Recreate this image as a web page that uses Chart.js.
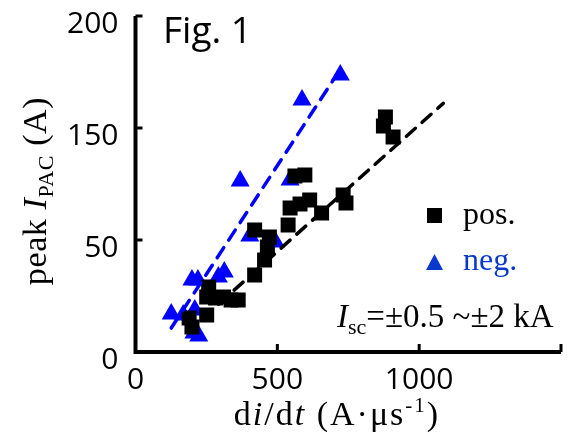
<!DOCTYPE html>
<html lang="en">
  <head>
    <meta charset="UTF-8" />
    <title>peak I_PAC vs di/dt</title>
    <style>
      html, body { margin: 0; padding: 0; background: #fff; }
      #wrap { width: 572px; height: 437px; }
    </style>
  </head>
  <body>
    <div id="wrap"><canvas id="scatter" width="572" height="437"></canvas></div>

    <script src="https://cdn.jsdelivr.net/npm/chart.js@4.4.0/dist/chart.umd.min.js"></script>
    <script>
      // positive strokes (black squares)
      const posX = [881, 874, 908, 562, 597, 732, 742, 656, 545, 580, 614, 538, 472, 420, 465, 455, 420, 337, 310, 362, 258, 251, 282, 251, 189, 199];
      const posY = [104.9, 100.9, 96.0, 78.6, 79.0, 70.1, 66.5, 62.1, 64.3, 66.1, 67.9, 56.7, 51.3, 54.5, 46.9, 41.1, 34.4, 23.2, 24.6, 23.2, 29.0, 24.6, 24.1, 16.5, 15.2, 11.2];
      // negative strokes (blue triangles)
      const negX = [722, 587, 369, 545, 403, 493, 199, 220, 292, 313, 126, 168, 209, 206, 223];
      const negY = [123.7, 112.5, 76.3, 76.8, 51.8, 49.1, 32.1, 32.1, 33.5, 35.7, 17.0, 16.5, 18.8, 8.5, 7.1];
      // fitted lines, end points
      const posFitX = [182, 1085];
      const posFitY = [8.9, 111];
      const negFitX = [126, 725];
      const negFitY = [10.7, 126.8];

      const xTicks = [0, 500, 1000];
      const yTicks = [0, 50, 100, 150];
      const yTickText = ["0", "50", "150", "200"];

      const BLUE = "#0000ff";
      const LEGEND_BLUE = "#0a3acd";
      const SERIF = "'Liberation Serif', 'Times New Roman', serif";
      const SANS = "'Open Sans', 'Noto Sans', sans-serif";

      const toPoints = (xs, ys) => xs.map((x, i) => ({ x: x, y: ys[i] }));

      // draws a run of text pieces with their own style and vertical shift
      const drawRuns = (ctx, runs, x, y, align, spacing) => {
        ctx.save();
        ctx.letterSpacing = spacing + "px";
        let total = 0;
        runs.forEach((r) => {
          ctx.font = r.font;
          r.w = ctx.measureText(r.text).width;
          total += r.w;
        });
        let cx = align === "center" ? x - total / 2 : x;
        ctx.textAlign = "left";
        ctx.textBaseline = "alphabetic";
        runs.forEach((r) => {
          ctx.font = r.font;
          ctx.fillStyle = r.color || "#000";
          ctx.fillText(r.text, cx, y + (r.dy || 0));
          cx += r.w;
        });
        ctx.restore();
      };

      const decor = {
        id: "decor",
        afterDraw(chart) {
          const ctx = chart.ctx;
          const xs = chart.scales.x;
          const ys = chart.scales.y;
          const left = xs.left;
          const right = xs.right;
          const top = ys.top;
          const bottom = ys.bottom;

          // axis lines
          ctx.save();
          ctx.strokeStyle = "#000";
          ctx.lineWidth = 4;
          ctx.lineCap = "butt";
          ctx.beginPath();
          ctx.moveTo(left, top);
          ctx.lineTo(left, bottom);
          ctx.lineTo(right, bottom);
          ctx.stroke();

          // inward tick marks
          ctx.lineWidth = 3;
          yTicks.forEach((v) => {
            const py = ys.getPixelForValue(v);
            if (v === 0) return;
            ctx.beginPath();
            ctx.moveTo(left, py);
            ctx.lineTo(left + 7, py);
            ctx.stroke();
          });
          xTicks.concat([xs.max]).forEach((v) => {
            const px = xs.getPixelForValue(v);
            if (v === 0) return;
            ctx.beginPath();
            ctx.moveTo(px, bottom);
            ctx.lineTo(px, bottom - 8);
            ctx.stroke();
          });
          ctx.restore();

          // figure tag
          ctx.save();
          ctx.font = "37px " + SANS;
          ctx.fillStyle = "#000";
          ctx.fillText("Fig. 1", 163, 43);
          ctx.restore();

          // legend
          ctx.save();
          ctx.fillStyle = "#000";
          ctx.fillRect(427, 208, 15, 15);
          ctx.fillStyle = LEGEND_BLUE;
          ctx.beginPath();
          ctx.moveTo(434.5, 254);
          ctx.lineTo(443, 270);
          ctx.lineTo(426, 270);
          ctx.closePath();
          ctx.fill();
          ctx.restore();
          drawRuns(ctx, [{ text: "pos.", font: "32px " + SERIF }], 463, 224, "left", 0);
          drawRuns(ctx, [{ text: "neg.", font: "32px " + SERIF, color: LEGEND_BLUE }], 463, 270, "left", 0);

          // current range note
          drawRuns(ctx, [
            { text: "I", font: "italic 33px " + SERIF },
            { text: "sc", font: "22px " + SERIF, dy: 7 },
            { text: "=\u00b10.5 ~\u00b12 kA", font: "33px " + SERIF },
          ], 337, 327, "left", 0);

          // x title
          drawRuns(ctx, [
            { text: "d", font: "34px " + SERIF },
            { text: "i", font: "italic 34px " + SERIF },
            { text: "/d", font: "34px " + SERIF },
            { text: "t", font: "italic 34px " + SERIF },
            { text: " (A\u00b7\u03bcs", font: "34px " + SERIF },
            { text: "-1", font: "21px " + SERIF, dy: -13 },
            { text: ")", font: "34px " + SERIF },
          ], 337, 425, "center", 2);

          // y title, rotated
          ctx.save();
          ctx.translate(46, 191);
          ctx.rotate(-Math.PI / 2);
          drawRuns(ctx, [
            { text: "peak ", font: "34px " + SERIF },
            { text: "I", font: "italic 34px " + SERIF },
            { text: "PAC", font: "22px " + SERIF, dy: 7 },
            { text: " (A)", font: "34px " + SERIF },
          ], 0, 0, "center", 0.6);
          ctx.restore();
        },
      };

      const ctx = document.getElementById("scatter").getContext("2d");
      const chart = new Chart(ctx, {
        type: "scatter",
        data: {
          datasets: [
            {
              label: "pos. fit",
              type: "line",
              data: toPoints(posFitX, posFitY),
              borderColor: "#000",
              borderWidth: 3.5,
              borderDash: [12, 9],
              borderCapStyle: "round",
              pointRadius: 0,
              fill: false,
              order: 0,
            },
            {
              label: "neg. fit",
              type: "line",
              data: toPoints(negFitX, negFitY),
              borderColor: BLUE,
              borderWidth: 3.5,
              borderDash: [12, 9],
              borderCapStyle: "round",
              pointRadius: 0,
              fill: false,
              order: 0,
            },
            {
              label: "pos.",
              data: toPoints(posX, posY),
              pointStyle: "rect",
              pointRadius: 10.6,
              backgroundColor: "#000",
              borderColor: "#000",
              borderWidth: 0,
              order: 1,
            },
            {
              label: "neg.",
              data: toPoints(negX, negY),
              pointStyle: "triangle",
              pointRadius: 11,
              backgroundColor: BLUE,
              borderColor: BLUE,
              borderWidth: 0,
              order: 2,
            },
          ],
        },
        options: {
          responsive: false,
          animation: false,
          layout: { padding: { top: 16, right: 3, left: 0, bottom: 0 } },
          plugins: {
            legend: { display: false },
            tooltip: { enabled: false },
          },
          scales: {
            x: {
              type: "linear",
              min: 0,
              max: 1500,
              grid: { display: false, drawTicks: false },
              border: { display: false },
              afterBuildTicks: (scale) => {
                scale.ticks = xTicks.map((v) => ({ value: v }));
              },
              afterFit: (scale) => {
                scale.height = 85;
                scale.paddingLeft = 0;
                scale.paddingRight = 0;
              },
              ticks: {
                color: "#000",
                font: { family: SANS, size: 30 },
                padding: 10,
                maxRotation: 0,
                callback: (v) => String(v),
              },
            },
            y: {
              type: "linear",
              min: 0,
              max: 150,
              grid: { display: false, drawTicks: false },
              border: { display: false },
              afterBuildTicks: (scale) => {
                scale.ticks = yTicks.map((v) => ({ value: v }));
              },
              afterFit: (scale) => {
                scale.width = 135.5;
                scale.paddingTop = 0;
                scale.paddingBottom = 0;
              },
              ticks: {
                color: "#000",
                font: { family: SANS, size: 30 },
                padding: 17,
                labelOffset: 8,
                callback: (v) => yTickText[yTicks.indexOf(v)],
              },
            },
          },
        },
        plugins: [decor],
      });
    </script>
  </body>
</html>
